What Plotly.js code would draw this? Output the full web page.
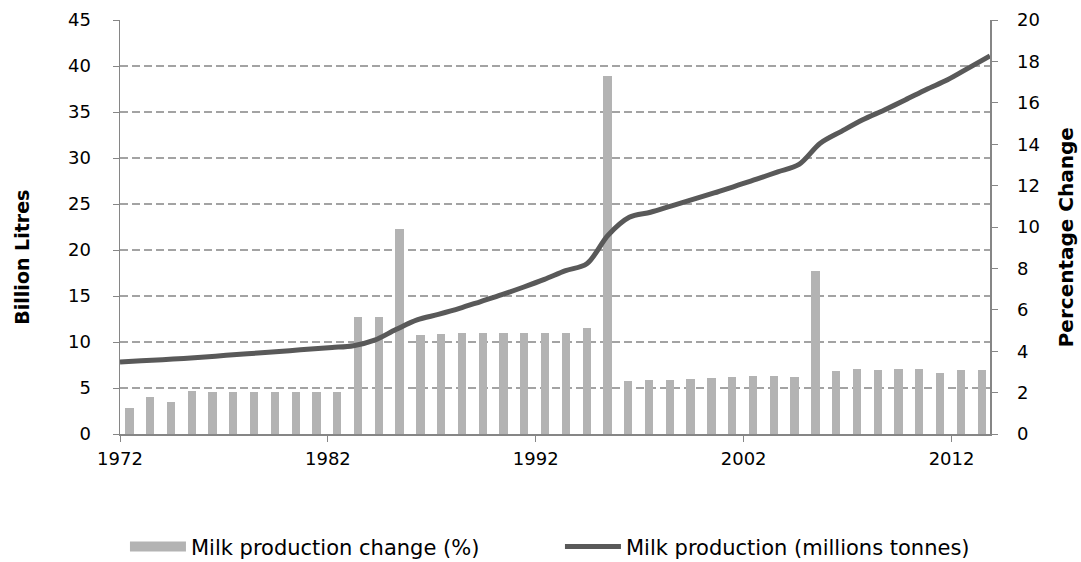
<!DOCTYPE html>
<html>
<head>
<meta charset="utf-8">
<script src="https://cdn.plot.ly/plotly-3.0.1.min.js"></script>
<style>
  html, body { margin: 0; padding: 0; background: #ffffff; }
  #chart { width: 1081px; height: 562px; }
</style>
</head>
<body>
<div id="chart"></div>
<script>
// Years covered by the series
const years = [
  1972, 1973, 1974, 1975, 1976, 1977, 1978, 1979, 1980, 1981,
  1982, 1983, 1984, 1985, 1986, 1987, 1988, 1989, 1990, 1991,
  1992, 1993, 1994, 1995, 1996, 1997, 1998, 1999, 2000, 2001,
  2002, 2003, 2004, 2005, 2006, 2007, 2008, 2009, 2010, 2011,
  2012, 2013
];

// Year-on-year change in milk production (%)
const changePct = [
  1.24, 1.77, 1.56, 2.08, 2.04, 2.04, 2.04, 2.04, 2.04, 2.04,
  2.04, 5.63, 5.63, 9.92, 4.79, 4.84, 4.87, 4.87, 4.87, 4.88,
  4.88, 4.90, 5.13, 17.30, 2.57, 2.60, 2.63, 2.67, 2.70, 2.73,
  2.78, 2.81, 2.73, 7.88, 3.05, 3.13, 3.09, 3.12, 3.12, 2.94,
  3.09, 3.09
];

// Milk production (billion litres)
const production = [
  7.82, 7.95, 8.08, 8.22, 8.37, 8.55, 8.72, 8.89, 9.06, 9.23,
  9.40, 9.60, 10.20, 11.35, 12.40, 13.00, 13.65, 14.40, 15.15, 15.95,
  16.80, 17.75, 18.50, 21.60, 23.55, 24.10, 24.80, 25.50, 26.20, 26.95,
  27.70, 28.50, 29.30, 31.60, 32.90, 34.15, 35.20, 36.30, 37.45, 38.50,
  39.80, 41.10
];

// Axis tick values
const leftTicks = [0, 5, 10, 15, 20, 25, 30, 35, 40, 45];
const rightTicks = [0, 2, 4, 6, 8, 10, 12, 14, 16, 18, 20];
const yearTicks = [1972, 1982, 1992, 2002, 2012];

const FONT = '"DejaVu Sans", Verdana, sans-serif';
const AXIS_GREY = '#868686';
const BAR_GREY = '#b3b3b3';
const LINE_GREY = '#595959';

const bars = {
  type: 'bar',
  name: 'Milk production change (%)',
  x: years,
  y: changePct,
  width: 0.4,
  offset: 0.25,
  marker: { color: BAR_GREY, line: { width: 0 } },
  xaxis: 'x',
  yaxis: 'y',
  showlegend: false,
  hoverinfo: 'x+y'
};

// Legend entry for the bars, drawn as a wide grey swatch
const barKey = {
  type: 'scatter',
  mode: 'lines',
  name: 'Milk production change (%)',
  x: [null],
  y: [null],
  line: { color: BAR_GREY, width: 14 },
  xaxis: 'x',
  yaxis: 'y',
  legend: 'legend',
  hoverinfo: 'skip'
};

const line = {
  type: 'scatter',
  mode: 'lines',
  name: 'Milk production (millions tonnes)',
  x: years,
  y: production,
  line: { color: LINE_GREY, width: 5, shape: 'spline', smoothing: 0.9 },
  xaxis: 'x2',
  yaxis: 'y2',
  legend: 'legend2',
  hoverinfo: 'x+y'
};

const legendStyle = {
  orientation: 'h',
  xref: 'container',
  yref: 'container',
  xanchor: 'left',
  y: 0.027,
  yanchor: 'middle',
  font: { family: FONT, size: 21 },
  itemwidth: 56,
  bgcolor: 'rgba(0,0,0,0)'
};

const layout = {
  width: 1081,
  height: 562,
  paper_bgcolor: '#ffffff',
  plot_bgcolor: '#ffffff',
  margin: { l: 120, r: 91, t: 20, b: 128, pad: 0, autoexpand: false },
  font: { family: FONT, size: 18, color: '#000000' },
  showlegend: true,
  bargap: 0,
  xaxis: {
    range: [1972, 2013.85],
    tickvals: yearTicks,
    ticktext: yearTicks.map(String),
    ticks: 'outside',
    ticklen: 6,
    tickcolor: AXIS_GREY,
    showline: true,
    linecolor: AXIS_GREY,
    linewidth: 1.5,
    showgrid: false,
    zeroline: false,
    tickfont: { family: FONT, size: 18 },
    ticklabelstandoff: 2,
    fixedrange: true
  },
  xaxis2: {
    range: [years[0], years[years.length - 1]],
    overlaying: 'x',
    visible: false,
    fixedrange: true
  },
  yaxis: {
    side: 'right',
    range: [0, 20],
    tickvals: rightTicks,
    ticks: 'outside',
    ticklen: 6,
    tickcolor: AXIS_GREY,
    showline: true,
    linecolor: AXIS_GREY,
    linewidth: 1.5,
    showgrid: false,
    zeroline: false,
    tickfont: { family: FONT, size: 18 },
    ticklabelstandoff: 16,
    fixedrange: true
  },
  yaxis2: {
    side: 'left',
    overlaying: 'y',
    range: [0, 45],
    tickvals: leftTicks,
    ticks: 'outside',
    ticklen: 6,
    tickcolor: AXIS_GREY,
    showline: true,
    linecolor: AXIS_GREY,
    linewidth: 1.5,
    showgrid: true,
    gridcolor: '#a3a3a3',
    gridwidth: 1.2,
    griddash: '8px,4px',
    zeroline: false,
    tickfont: { family: FONT, size: 18 },
    ticklabelstandoff: 18,
    fixedrange: true
  },
  annotations: [
    {
      text: '<b>Billion Litres</b>',
      xref: 'paper', yref: 'paper',
      x: -0.1123, y: 0.4267,
      xanchor: 'center', yanchor: 'middle',
      textangle: -90, showarrow: false,
      font: { family: FONT, size: 19 }
    },
    {
      text: '<b>Percentage Change</b>',
      xref: 'paper', yref: 'paper',
      x: 1.0873, y: 0.475,
      xanchor: 'center', yanchor: 'middle',
      textangle: -90, showarrow: false,
      font: { family: FONT, size: 20 }
    }
  ],
  legend: Object.assign({}, legendStyle, { x: 0.1156 }),
  legend2: Object.assign({}, legendStyle, { x: 0.518 })
};

Plotly.newPlot('chart', [bars, barKey, line], layout, { displayModeBar: false, staticPlot: true });
</script>
</body>
</html>
